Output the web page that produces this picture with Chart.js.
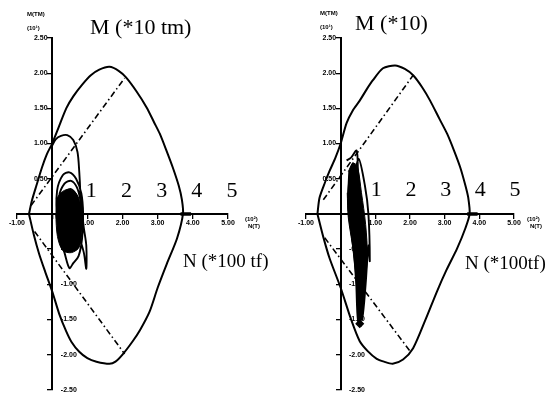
<!DOCTYPE html>
<html><head><meta charset="utf-8">
<script src="https://cdn.jsdelivr.net/npm/chart.js@4/dist/chart.umd.min.js"></script>
<style>
html,body{margin:0;padding:0;background:#fff;width:551px;height:397px;overflow:hidden}
canvas{position:absolute;top:0}
#c1{left:0}#c2{left:275px}
</style></head><body>
<canvas id="c1" width="275" height="397"></canvas>
<canvas id="c2" width="276" height="397"></canvas>
<script>
// ---- ticks & labels ----
const xTickValues = [-1, 0, 1, 2, 3, 4, 5];
const yTickValues = [-2.5, -2, -1.5, -1, -0.5, 0, 0.5, 1, 1.5, 2, 2.5];
const handDigits = [1, 2, 3, 4, 5];

// ---- left diagram (N in 100 tf, M in 10 tm) ----
const leftEnvelope = [[-0.66,0],[-0.57,0.2],[-0.45,0.4],[-0.29,0.66],[-0.15,0.85],[0,1.0],[0.2,1.25],[0.4,1.5],[0.6,1.67],[0.86,1.84],[1.1,1.97],[1.34,2.05],[1.63,2.09],[1.9,2.03],[2.1,1.94],[2.4,1.74],[2.69,1.51],[2.9,1.3],[3.06,1.14],[3.25,0.9],[3.43,0.66],[3.6,0.4],[3.69,0.2],[3.72,0],[3.55,-0.35],[3.26,-0.71],[3.0,-1.05],[2.77,-1.39],[2.5,-1.65],[2.29,-1.81],[2.0,-2.0],[1.8,-2.1],[1.63,-2.13],[1.26,-2.1],[1.0,-2.05],[0.77,-1.96],[0.55,-1.82],[0.4,-1.67],[0.2,-1.42],[0,-1.1],[-0.2,-0.82],[-0.37,-0.57],[-0.52,-0.3],[-0.66,0]];
const leftLoadUp = [[-0.6,0.12],[2.06,1.93]];
const leftLoadDown = [[-0.5,-0.25],[2.06,-1.99]];
const leftTrace = [[0.0,0.97],[0.1,1.06],[0.25,1.11],[0.43,1.12],[0.6,1.05],[0.72,0.88],[0.77,0.6],[0.8,0.3],[0.81,0.0],[0.78,-0.3],[0.7,-0.5],[0.5,-0.45],[0.3,-0.35],[0.15,-0.1],[0.14,0.33],[0.3,0.55],[0.49,0.59],[0.68,0.5],[0.83,0.29],[0.88,0.0],[0.85,-0.35],[0.75,-0.6],[0.6,-0.7],[0.49,-0.77],[0.35,-0.55],[0.2,-0.3],[0.2,0.25],[0.35,0.43],[0.54,0.47],[0.7,0.38],[0.8,0.2],[0.9,-0.2],[0.97,-0.45],[0.97,-0.78],[0.9,-0.55],[0.75,-0.3],[0.6,-0.1],[0.4,0.1],[0.25,0.2],[0.4,0.33],[0.55,0.35],[0.7,0.25],[0.78,0.05],[0.7,-0.25],[0.55,-0.5],[0.4,-0.5],[0.25,-0.2],[0.18,0.1],[0.35,0.2],[0.5,0.1],[0.65,-0.1],[0.5,-0.3],[0.3,-0.1]];
const leftCore = [[0.12,0.22],[0.3,0.32],[0.5,0.35],[0.7,0.28],[0.82,0.1],[0.85,-0.2],[0.77,-0.47],[0.55,-0.55],[0.3,-0.52],[0.15,-0.32],[0.1,0.0]];
const leftEndMark = [[3.65,0],[3.95,0]];

// ---- right diagram ----
const rightEnvelope = [[-0.67,0],[-0.61,0.23],[-0.45,0.45],[-0.32,0.61],[-0.15,0.8],[0,1.0],[0.17,1.29],[0.35,1.47],[0.55,1.61],[0.75,1.77],[0.93,1.9],[1.22,2.07],[1.57,2.11],[1.85,2.06],[2.09,1.97],[2.35,1.8],[2.58,1.61],[2.85,1.35],[3.07,1.14],[3.27,0.9],[3.45,0.66],[3.6,0.4],[3.68,0.23],[3.72,0],[3.6,-0.2],[3.36,-0.49],[3.05,-0.8],[2.78,-1.1],[2.45,-1.5],[2.09,-1.91],[1.8,-2.07],[1.5,-2.13],[1.25,-2.1],[1.04,-2.06],[0.78,-1.95],[0.55,-1.81],[0.3,-1.5],[0,-1.05],[-0.32,-0.63],[-0.5,-0.33],[-0.67,0]];
const rightLoadUp = [[-0.5,0.2],[2.09,1.97]];
const rightLoadDown = [[-0.46,-0.34],[2.0,-1.95]];
const rightTrace = [[0.17,0.76],[0.3,0.8],[0.46,0.9],[0.5,0.6],[0.58,0.2],[0.68,-0.2],[0.75,-0.6],[0.68,-1.0],[0.55,-1.56],[0.5,-1.2],[0.42,-0.7],[0.32,-0.3],[0.22,0.1],[0.25,0.5],[0.35,0.72],[0.45,0.55],[0.55,0.0],[0.65,-0.45],[0.62,-0.95],[0.55,-1.45],[0.62,-1.5],[0.72,-1.0],[0.8,-0.45],[0.84,-0.67],[0.8,0.0],[0.7,0.4],[0.52,0.78],[0.38,0.45],[0.3,0.0],[0.38,-0.5],[0.45,-1.0],[0.5,-1.52],[0.6,-1.6]];
const rightCore = [[0.22,0.6],[0.35,0.72],[0.48,0.68],[0.6,0.3],[0.72,-0.15],[0.77,-0.6],[0.7,-1.0],[0.6,-1.5],[0.5,-1.35],[0.44,-0.9],[0.34,-0.45],[0.22,-0.05],[0.19,0.3]];
const rightEndMark = [[3.65,0],[3.95,0]];
const rightPeakPoint = [[0.55,-1.56]];

const pts = a => a.map(p => ({x: p[0], y: p[1]}));
const tickFont = {size: 7, weight: 'bold', family: '"Liberation Sans", Arial, sans-serif'};

function makeScales() {
  return {
    x: {
      type: 'linear', min: -1, max: 5, position: {y: 0},
      afterBuildTicks: s => { s.ticks = xTickValues.map(v => ({value: v})); },
      grid: {drawOnChartArea: false, drawTicks: true, tickLength: 4, color: '#000', lineWidth: 1.3},
      border: {display: true, color: '#000', width: 2},
      ticks: {font: tickFont, color: '#000', padding: 1, maxRotation: 0, autoSkip: false,
        callback: v => v === 0 ? '' : Number(v).toFixed(2)}
    },
    y: {
      type: 'linear', min: -2.5, max: 2.5, position: {x: 0},
      afterBuildTicks: s => { s.ticks = yTickValues.map(v => ({value: v})); },
      grid: {drawOnChartArea: false, drawTicks: true, tickLength: 4, color: '#000', lineWidth: 1.3},
      border: {display: true, color: '#000', width: 2},
      ticks: {font: tickFont, color: '#000', autoSkip: false, callback: () => ''}
    },
    yPos: {
      type: 'linear', min: -2.5, max: 2.5, position: {x: -0.13},
      afterBuildTicks: s => { s.ticks = yTickValues.map(v => ({value: v})); },
      grid: {display: false},
      border: {display: false},
      ticks: {font: tickFont, color: '#000', padding: 0, autoSkip: false,
        callback: v => v > 0 ? Number(v).toFixed(2) : ''}
    },
    yNeg: {
      type: 'linear', min: -2.5, max: 2.5, position: {x: 0.7},
      afterBuildTicks: s => { s.ticks = yTickValues.map(v => ({value: v})); },
      grid: {display: false},
      border: {display: false},
      ticks: {font: tickFont, color: '#000', padding: 0, autoSkip: false,
        callback: v => v < 0 ? Number(v).toFixed(2) : ''}
    }
  };
}

function textPlugin(texts, digitOffset, digitY) {
  return {
    id: 'texts',
    afterDraw(chart) {
      const ctx = chart.ctx;
      ctx.save();
      ctx.fillStyle = '#000';
      ctx.textBaseline = 'middle';
      texts.forEach(t => {
        ctx.font = t.font;
        ctx.textAlign = 'left';
        ctx.fillText(t.text, t.x, t.y);
      });
      ctx.font = '22px "Liberation Serif", "Times New Roman", serif';
      ctx.textAlign = 'center';
      handDigits.forEach(d => ctx.fillText(String(d), chart.scales.x.getPixelForValue(d) + digitOffset, digitY));
      ctx.restore();
    }
  };
}

const serifBig = '22px "Liberation Serif", "Times New Roman", serif';
const serifN = '19px "Liberation Serif", "Times New Roman", serif';
const tiny = 'bold 6px "Liberation Sans", Arial, sans-serif';

function lineDs(data, opts) {
  return Object.assign({data: pts(data), showLine: true, pointRadius: 0, borderColor: '#000',
    backgroundColor: '#000', borderWidth: 1.5, tension: 0, fill: false}, opts);
}

function makeChart(id, d, pad, texts, digitOffset, digitY) {
  return new Chart(document.getElementById(id), {
    type: 'scatter',
    data: {datasets: [
      lineDs(d.env, {borderWidth: 2, tension: 0.25}),
      lineDs(d.up, {borderWidth: 1.6, borderDash: [6, 3, 1.5, 3]}),
      lineDs(d.down, {borderWidth: 1.6, borderDash: [6, 3, 1.5, 3]}),
      lineDs(d.core, {borderWidth: 1, fill: 'shape', tension: 0.3}),
      lineDs(d.trace, {borderWidth: 1.9, tension: 0.3}),
      lineDs(d.mark, {borderWidth: 3.5}),
      lineDs(d.pt || [], {pointRadius: 3.5, pointStyle: 'rectRot', showLine: false})
    ]},
    options: {
      responsive: false, animation: false, devicePixelRatio: 1,
      layout: {padding: pad},
      plugins: {legend: {display: false}, tooltip: {enabled: false}},
      scales: makeScales()
    },
    plugins: [textPlugin(texts, digitOffset, digitY)]
  });
}

makeChart('c1', {env: leftEnvelope, up: leftLoadUp, down: leftLoadDown, core: leftCore, trace: leftTrace, mark: leftEndMark},
  {left: 17, right: 47, top: 38, bottom: 7},
  [
    {text: 'M(TM)', x: 27, y: 14, font: tiny},
    {text: '(10\u00B9)', x: 27, y: 28, font: tiny},
    {text: 'M (*10 tm)', x: 90, y: 28, font: serifBig},
    {text: 'N (*100 tf)', x: 183, y: 262, font: serifN},
    {text: '(10\u00B2)', x: 245, y: 219, font: tiny},
    {text: 'N(T)', x: 248, y: 226, font: tiny}
  ], 4, 191);

makeChart('c2', {env: rightEnvelope, up: rightLoadUp, down: rightLoadDown, core: rightCore, trace: rightTrace, mark: rightEndMark, pt: rightPeakPoint},
  {left: 31, right: 37, top: 38, bottom: 7},
  [
    {text: 'M(TM)', x: 45, y: 13, font: tiny},
    {text: '(10\u00B9)', x: 45, y: 27, font: tiny},
    {text: 'M (*10)', x: 80, y: 24, font: serifBig},
    {text: 'N (*100tf)', x: 190, y: 264, font: serifN},
    {text: '(10\u00B2)', x: 252, y: 219, font: tiny},
    {text: 'N(T)', x: 255, y: 226, font: tiny}
  ], 1, 190);
</script>
</body></html>
